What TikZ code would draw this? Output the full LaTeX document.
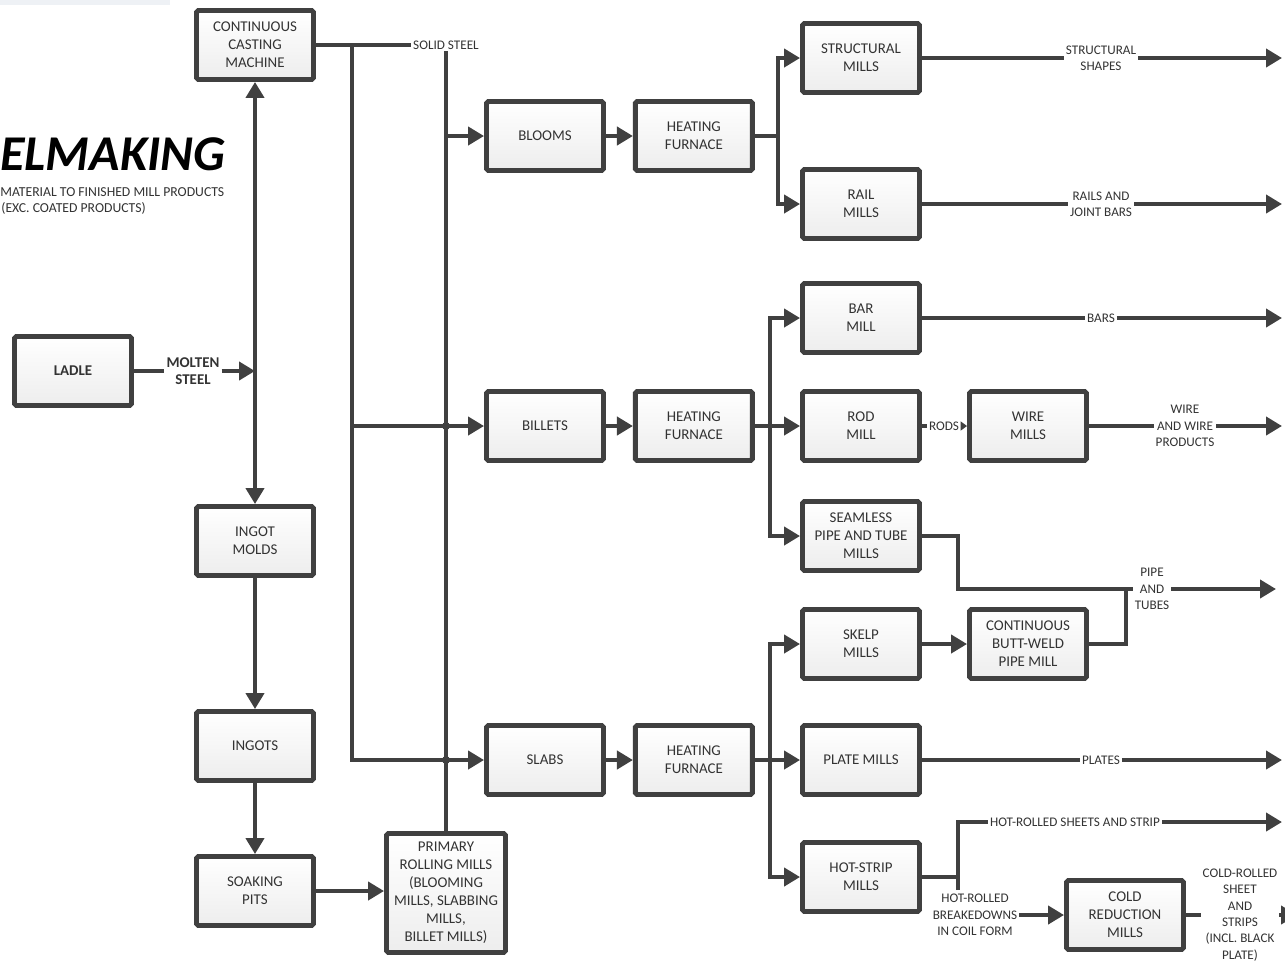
\documentclass[tikz,border=0pt]{standalone}
\usepackage{fontspec}
\setmainfont{Carlito}
\usetikzlibrary{arrows.meta,positioning,shadows}
\definecolor{LineGrey}{HTML}{404040}
\definecolor{TextGrey}{HTML}{333333}
\definecolor{PaleTop}{HTML}{EEF1F5}

\begin{document}
\begin{tikzpicture}[x=0.02cm,y=-0.02cm,
    mill/.style={draw=LineGrey,line width=2.8pt,rounded corners=1pt,
                 top color=white,bottom color=gray!14,
                 drop shadow={shadow xshift=.8pt,shadow yshift=-.8pt,opacity=.25},
                 minimum width=2.34cm,minimum height=1.38cm,align=center,
                 text=TextGrey,font=\fontsize{8.5}{10.2}\selectfont},
    lbl/.style={align=center,text=TextGrey,inner sep=1pt,
                font=\fontsize{7.5}{9.3}\selectfont},
    ln/.style={LineGrey,line width=2.8pt},
    arr/.style={ln,-{Triangle[length=3.2mm,width=3.6mm]}},
    tinyarr/.style={ln,-{Triangle[length=1.3mm,width=1.8mm]}}]
    \fill[white] (0,0) rectangle (1285,965);
    \useasboundingbox (0,0) rectangle (1285,965);
    \fill[PaleTop] (0,0) rectangle (170,5);

    \node[anchor=base west,inner sep=0,text=black,
          font=\bfseries\itshape\fontsize{28.5}{28.5}\selectfont] (title) at (0,170) {ELMAKING};
    \node[lbl,anchor=base west,inner sep=0,font=\fontsize{7.8}{9}\selectfont] (sub1) at (0,196) {MATERIAL TO FINISHED MILL PRODUCTS};
    \node[lbl,anchor=base west,inner sep=0,font=\fontsize{7.8}{9}\selectfont] (sub2) at (1,212) {(EXC. COATED PRODUCTS)};

    \node[mill] (cast) at (255,45) {CONTINUOUS\\CASTING\\MACHINE};
    \node[mill,font=\bfseries\fontsize{8.5}{10.2}\selectfont] (ladle) at (73,371) {LADLE};
    \node[mill] (molds) at (255,541) {INGOT\\MOLDS};
    \node[mill] (ingots) at (255,746) {INGOTS};
    \node[mill] (pits) at (255,891) {SOAKING\\PITS};
    \node[mill,minimum width=2.38cm,minimum height=2.38cm,inner sep=1pt] (prim) at (446,893)
        {PRIMARY\\ROLLING MILLS\\(BLOOMING\\MILLS, SLABBING\\MILLS,\\BILLET MILLS)};
    \node[mill] (blooms) at (545,136) {BLOOMS};
    \node[mill,right=0.54cm of blooms] (heat1) {HEATING\\FURNACE};
    \node[mill] (billets) at (545,426) {BILLETS};
    \node[mill,right=0.54cm of billets] (heat2) {HEATING\\FURNACE};
    \node[mill] (slabs) at (545,760) {SLABS};
    \node[mill,right=0.54cm of slabs] (heat3) {HEATING\\FURNACE};
    \node[mill] (struct) at (861,58) {STRUCTURAL\\MILLS};
    \node[mill] (rail) at (861,204) {RAIL\\MILLS};
    \node[mill] (bar) at (861,318) {BAR\\MILL};
    \node[mill] (rod) at (861,426) {ROD\\MILL};
    \node[mill] (wire) at (1028,426) {WIRE\\MILLS};
    \node[mill] (seam) at (861,536) {SEAMLESS\\PIPE AND TUBE\\MILLS};
    \node[mill] (skelp) at (861,644) {SKELP\\MILLS};
    \node[mill] (weld) at (1028,644) {CONTINUOUS\\BUTT-WELD\\PIPE MILL};
    \node[mill] (plate) at (861,760) {PLATE MILLS};
    \node[mill] (hot) at (861,877) {HOT-STRIP\\MILLS};
    \node[mill] (cold) at (1125,915) {COLD\\REDUCTION\\MILLS};

    \node[lbl,font=\bfseries\fontsize{8.5}{10}\selectfont] (molten) at (193,371) {MOLTEN\\STEEL};
    \node[lbl] (solid) at (446,45) {SOLID STEEL};
    \node[lbl] (shapes) at (1101,58) {STRUCTURAL\\SHAPES};
    \node[lbl] (rails) at (1101,204) {RAILS AND\\JOINT BARS};
    \node[lbl] (bars) at (1101,318) {BARS};
    \node[lbl] (rods) at (944,426) {RODS};
    \node[lbl] (wires) at (1185,426) {WIRE\\AND WIRE\\PRODUCTS};
    \node[lbl] (pipes) at (1152,589) {PIPE\\AND\\TUBES};
    \node[lbl] (plates) at (1101,760) {PLATES};
    \node[lbl] (hrsheet) at (1075,822) {HOT-ROLLED SHEETS AND STRIP};
    \node[lbl] (brkdown) at (975,915) {HOT-ROLLED\\BREAKEDOWNS\\IN COIL FORM};
    \node[lbl] (coldsheet) at (1240,915)
        {COLD-ROLLED\\SHEET\\AND\\STRIPS\\(INCL. BLACK\\PLATE)};

    \coordinate (split) at (352,45);
    \coordinate (fork1) at (778,136);
    \coordinate (fork2) at (770,426);
    \coordinate (fork3) at (770,760);
    \coordinate (pipeA) at (958,589);
    \coordinate (pipeB) at (1126,589);
    \coordinate (hotJ) at (958,877);
    \coordinate (hotB) at (958,890);
    \coordinate (outA) at (1282,58);
    \coordinate (outB) at (1282,204);
    \coordinate (outC) at (1282,318);
    \coordinate (outD) at (1282,426);
    \coordinate (outE) at (1276,589);
    \coordinate (outF) at (1282,760);
    \coordinate (outG) at (1282,822);
    \coordinate (outH) at (1297,915);

    \draw[ln] (ladle) -- (molten);
    \draw[arr] (molten) -- (molten -| cast.south);
    \draw[arr] (cast.south |- molten) -- (cast.south);
    \draw[arr] (molds.north |- molten) -- (molds.north);
    \draw[arr] (molds) -- (ingots);
    \draw[arr] (ingots) -- (pits);
    \draw[arr] (pits) -- (pits -| prim.west);

    \draw[ln] (cast) -- (solid);
    \draw[arr] (split) |- (slabs.west);
    \draw[arr] (split |- billets) -- (billets.west);
    \draw[ln] (prim.north) -- (solid.south -| prim.north);
    \draw[arr] (prim.north |- blooms) -- (blooms.west);
    \fill[LineGrey] (prim.north |- billets) circle (0.8mm);
    \fill[LineGrey] (prim.north |- slabs) circle (0.8mm);

    \draw[arr] (blooms) -- (heat1);
    \draw[arr] (billets) -- (heat2);
    \draw[arr] (slabs) -- (heat3);
    \draw[ln] (heat1) -- (fork1);
    \draw[arr] (fork1) |- (struct.west);
    \draw[arr] (fork1) |- (rail.west);
    \draw[arr] (heat2) -- (rod);
    \draw[arr] (fork2) |- (bar.west);
    \draw[arr] (fork2) |- (seam.west);
    \draw[arr] (heat3) -- (plate);
    \draw[arr] (fork3) |- (skelp.west);
    \draw[arr] (fork3) |- (hot.west);

    \draw[ln] (struct) -- (shapes);
    \draw[arr] (shapes) -- (outA);
    \draw[ln] (rail) -- (rails);
    \draw[arr] (rails) -- (outB);
    \draw[ln] (bar) -- (bars);
    \draw[arr] (bars) -- (outC);
    \draw[ln] (rod) -- (rods);
    \draw[tinyarr] (rods) -- (wire);
    \draw[ln] (wire) -- (wires);
    \draw[arr] (wires) -- (outD);
    \draw[ln] (seam.east) -| (pipeA) -- (pipes.west);
    \draw[arr] (skelp) -- (weld);
    \draw[ln] (weld.east) -| (pipeB);
    \draw[arr] (pipes) -- (outE);
    \draw[ln] (plate) -- (plates);
    \draw[arr] (plates) -- (outF);
    \draw[ln] (hot.east) -- (hotJ);
    \draw[ln] (hotB) |- (hrsheet.west);
    \draw[arr] (hrsheet) -- (outG);
    \draw[arr] (brkdown) -- (cold);
    \draw[ln] (cold) -- (coldsheet);
    \draw[arr] (coldsheet) -- (outH);
  \end{tikzpicture}
\end{document}
